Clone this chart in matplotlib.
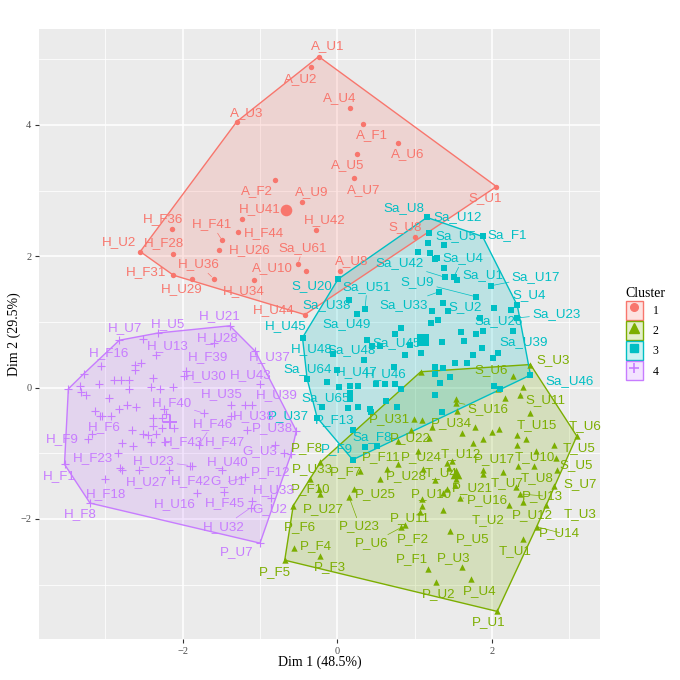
import matplotlib
matplotlib.use("Agg")
import matplotlib.pyplot as plt
import numpy as np
from matplotlib.patches import Patch
from matplotlib.lines import Line2D
from matplotlib.legend_handler import HandlerTuple
from matplotlib.colors import to_rgba

# ---------------- data ----------------
cluster_labels = ["1", "2", "3", "4"]

names1 = ["A_U1","A_U2","A_U3","A_U4","A_F1","A_U6","A_U5","A_U7","A_F2","A_U9","H_U41","H_F44",
          "H_U42","S_U1","S_U8","H_F36","H_F41","H_U2","H_F28","H_U26","H_U36","Sa_U61","A_U10",
          "H_F31","H_U29","H_U34","H_U44","A_U8"]
x1 = [-0.24,-0.34,-1.30,0.16,0.33,0.79,0.26,0.21,-0.80,-0.46,-1.23,-1.28,-0.28,2.06,1.01,-2.14,
      -1.49,-2.55,-2.13,-1.53,-1.60,-0.51,-0.40,-2.12,-1.88,-1.08,-0.42,0.04]
y1 = [5.04,4.88,4.05,4.25,4.01,3.72,3.56,3.19,3.16,2.83,2.57,2.37,2.40,3.06,2.29,2.41,2.24,2.07,
      2.04,2.09,1.66,1.88,1.77,1.71,1.65,1.63,1.11,1.77]

names2 = ["S_U6","S_U3","S_U16","S_U11","T_U15","T_U6","T_U5","S_U5","S_U7","T_U10","T_U12","P_U17",
          "P_U24","P_F11","P_U22","P_U31","P_U34","P_F8","P_U33","P_F10","P_F7","P_U28","P_U25","P_U10",
          "P_U16","P_U13","P_U21","T_U7","T_U8","T_U4","T_U3","P_U14","P_U12","T_U2","T_U1","P_U5",
          "P_U3","P_F1","P_U2","P_U4","P_U1","P_U11","P_F2","P_U6","P_U23","P_U27","P_F6","P_F4",
          "P_F3","P_F5"] + [""] * 31
x2 = [2.27,2.50,1.54,2.36,2.49,3.10,2.80,2.83,2.80,2.57,1.49,1.89,1.05,0.79,0.79,0.99,1.22,-0.22,
      -0.35,-0.24,0.30,0.55,0.22,1.09,1.59,2.36,1.52,2.31,2.54,1.45,2.70,2.58,2.40,2.22,2.40,1.46,
      1.62,1.18,1.28,1.73,2.07,1.07,0.88,0.83,0.15,-0.22,-0.57,-0.56,-0.23,-0.68,
      1.08,2.40,2.08,2.17,1.54,1.55,1.09,0.96,1.61,1.78,2.00,2.09,2.32,2.44,2.32,1.88,1.75,1.19,
      0.64,1.42,1.53,1.26,1.11,1.89,2.14,2.34,1.09,1.37,1.37,2.84,1.42]
y2 = [0.18,0.35,-0.23,-0.12,-0.39,-0.74,-0.87,-1.08,-1.50,-0.97,-1.12,-1.25,-0.97,-1.17,-0.82,-0.48,
      -0.60,-1.14,-1.39,-1.55,-1.27,-1.39,-1.55,-1.70,-1.68,-1.62,-1.48,-1.51,-1.20,-1.22,-1.79,-2.12,
      -1.75,-1.79,-2.31,-2.19,-2.74,-2.76,-2.96,-2.92,-3.41,-1.90,-2.10,-2.13,-1.66,-1.62,-1.80,-2.44,
      -2.56,-2.63,
      0.24,0.01,-0.02,-0.16,-0.17,-0.36,-0.49,-0.64,-0.70,-0.60,-0.68,-0.63,-0.73,-0.79,-0.87,-0.78,
      -0.84,-0.77,-1.24,-1.15,-1.40,-1.41,-1.24,-1.31,-1.29,-1.20,-1.80,-1.87,-1.60,-1.25,-1.55]

names3 = ["Sa_U8","Sa_U12","Sa_U5","Sa_F1","Sa_U4","Sa_U42","Sa_U1","Sa_U17","S_U9","S_U4","Sa_U23",
          "S_U2","Sa_U33","Sa_U26","Sa_U39","Sa_U51","S_U20","Sa_U38","Sa_U49","H_U45","Sa_U45",
          "Sa_U48","H_U48","Sa_U64","H_U47","H_U46","Sa_U46","Sa_U65","P_F13","P_U37","Sa_F8",
          "P_F9"] + [""] * 56
x3 = [1.16,1.19,1.17,1.88,1.51,1.39,1.55,1.99,1.80,2.33,2.33,2.03,1.32,1.88,2.28,0.36,0.01,0.15,
      0.25,-0.45,0.94,0.34,-0.06,-0.39,0.00,0.75,2.50,0.02,-0.26,-0.20,0.36,0.20,
      1.04,1.20,1.26,1.29,1.38,1.38,1.37,1.43,1.23,1.30,1.21,0.83,0.75,1.35,1.60,1.64,1.80,1.85,
      1.87,2.01,2.08,1.76,1.68,1.52,1.37,1.26,0.88,1.08,0.73,0.38,0.45,0.55,-0.13,0.17,0.27,0.50,
      0.62,0.16,0.17,0.27,0.42,0.43,0.63,0.77,0.20,0.51,1.26,1.46,1.33,1.26,1.36,2.03,2.10,2.25,
      0.14,0.83]
y3 = [2.59,2.36,2.20,2.30,1.69,1.68,1.63,1.55,1.38,1.25,1.06,1.21,1.46,0.86,0.86,1.20,1.65,1.34,
      1.12,0.76,0.64,0.42,0.51,0.13,0.27,0.06,0.19,0.01,-0.46,-0.30,-0.90,-1.10,
      2.06,2.05,1.95,1.97,2.17,1.82,1.28,1.16,1.16,1.03,0.99,0.90,0.82,0.70,0.85,0.71,0.82,1.06,
      0.60,0.45,0.53,0.49,0.38,0.38,0.30,0.32,0.49,0.52,0.32,0.73,0.63,0.63,0.09,0.02,0.03,0.06,
      0.06,-0.09,-0.18,-0.29,-0.33,-0.38,-0.21,-0.29,-0.64,-0.89,0.20,0.16,0.07,-0.11,-0.38,0.02,
      -0.03,1.18,-0.31,-0.02]

names4 = ["H_U7","H_U5","H_U21","H_U28","H_F16","H_U13","H_F39","H_U37","H_U30","H_U43","H_U35",
          "H_U39","H_F40","H_U38","H_F46","P_U38","H_F6","H_F9","H_F43","H_F47","G_U3","H_F23",
          "H_U23","H_U40","P_F12","H_F1","H_U27","H_F42","G_U1","H_U33","H_F18","H_U16","H_F45",
          "G_U2","H_F8","H_U32","P_U7"] + [""] * 45
x4 = [-2.82,-2.32,-1.39,-1.60,-3.06,-2.35,-1.96,-1.06,-1.98,-1.00,-1.38,-1.11,-1.73,-1.38,-1.79,
      -0.53,-3.17,-3.23,-2.23,-1.17,-0.69,-2.84,-1.90,-1.49,-0.60,-3.53,-2.56,-2.18,-1.19,-0.86,
      -3.01,-1.81,-1.47,-1.10,-3.20,-1.12,-1.00,
      -2.51,-3.28,-3.48,-2.62,-2.54,-2.62,-2.39,-2.89,-2.80,-2.69,-3.09,-3.33,-3.32,-3.25,-2.69,
      -2.41,-2.29,-2.13,-2.96,-2.72,-2.61,-2.82,-3.14,-3.07,-2.93,-3.04,-2.24,-2.22,-2.27,-2.39,
      -1.20,-2.39,-2.27,-2.11,-2.66,-2.52,-2.45,-2.34,-2.41,-2.78,-2.64,-0.80,-1.88,-2.81,-2.78]
y4 = [0.72,0.83,0.94,0.68,0.33,0.49,0.25,0.55,0.18,0.05,-0.27,-0.27,-0.39,-0.44,-0.87,-0.66,-0.71,
      -0.79,-0.83,-0.65,-0.99,-0.99,-1.19,-1.26,-1.02,-1.17,-1.25,-1.26,-1.37,-1.68,-1.39,-1.60,
      -1.59,-1.73,-1.76,-1.83,-2.37,
      0.74,0.21,-0.02,0.35,0.38,0.27,0.15,0.11,0.12,0.11,0.05,0.03,-0.07,-0.11,-0.03,0.01,-0.02,
      0.01,-0.16,-0.26,-0.29,-0.33,-0.36,-0.44,-0.44,-0.44,-0.33,-0.41,-0.46,-0.46,-0.27,-0.59,
      -0.61,-0.61,-0.65,-0.71,-0.73,-0.71,-0.83,-0.84,-0.89,-0.87,-1.19,-1.22,-1.25]

centers_x = [-0.67, 1.54, 1.11, -2.16]
centers_y = [2.70, -1.30, 0.73, -0.52]

# ---------------- layout / style ----------------
colors = ["#F8766D", "#7CAE00", "#00BFC4", "#C77CFF"]
markers = ["o", "^", "s", "+"]
msize = [15, 21, 14, 32]

# label offsets in pixels (dx, dy up); default (0, 9)
label_offsets = {
    "A_U1": (9, 10), "A_U2": (-10, -12), "A_U3": (10, 9), "A_U4": (-10, 10), "A_F1": (9, -11),
    "A_U6": (9, -11), "A_U5": (-10, -11), "A_U7": (10, -12), "A_F2": (-19, -11), "A_U9": (10, 10),
    "H_U41": (18, 10), "H_F44": (26, -1), "H_U42": (9, 10), "S_U1": (-11, -11), "S_U8": (-10, 10),
    "H_F36": (-9, 10), "H_F41": (-10, 16), "H_U2": (-21, 10), "H_F28": (-9, 10), "H_U26": (31, 0),
    "H_U36": (-15, 14), "Sa_U61": (5, 16), "A_U10": (-34, 3), "H_F31": (-27, 3), "H_U29": (-10, -10),
    "H_U34": (-10, -11), "H_U44": (-31, 5), "A_U8": (11, 10),
    "Sa_U8": (-23, 9), "Sa_U12": (28, 15), "Sa_U5": (28, 7), "Sa_F1": (25, 1), "Sa_U4": (9, 18),
    "Sa_U42": (-45, 14), "Sa_U1": (26, 5), "Sa_U17": (45, 9), "S_U9": (-59, 15), "S_U4": (12, 10),
    "Sa_U23": (39, 4), "S_U2": (-29, 1), "Sa_U33": (-36, -13), "Sa_U26": (16, 10), "Sa_U39": (10, -11),
    "Sa_U51": (2, 22), "S_U20": (-26, -7), "Sa_U38": (-22, -6), "Sa_U49": (-10, -10), "H_U45": (-17, 12),
    "Sa_U45": (-13, 2), "Sa_U48": (-12, 10), "H_U48": (-21, 5), "Sa_U64": (0, 10), "H_U47": (19, -2),
    "H_U46": (-9, 9), "Sa_U46": (39, -6), "Sa_U65": (-13, -11), "P_F13": (18, -2), "P_U37": (-33, -9),
    "Sa_F8": (7, 10), "P_F9": (-16, 11),
    "S_U6": (-21, 6), "S_U3": (23, 4), "S_U16": (32, -6), "S_U11": (26, -5), "T_U15": (7, -12),
    "T_U6": (8, 10), "T_U5": (25, -3), "S_U5": (20, -7), "S_U7": (26, 2), "T_U10": (-1, -6),
    "T_U12": (8, 7), "P_U17": (11, 11), "P_U24": (3, -6), "P_F11": (-17, 7), "P_U22": (12, 3),
    "P_U31": (-24, 0), "P_U34": (20, 4), "P_F8": (-13, 14), "P_U33": (2, 10), "P_F10": (-8, 0),
    "P_F7": (-15, -1), "P_U28": (27, 3), "P_U25": (21, -5), "P_U10": (10, 5), "P_U16": (27, -2),
    "P_U13": (23, -2), "P_U21": (18, -3), "T_U7": (-9, 4), "T_U8": (4, -12), "T_U4": (-8, -5),
    "T_U3": (34, -9), "P_U14": (23, -6), "P_U12": (10, -13), "T_U2": (-21, -15), "T_U1": (-8, -12),
    "P_U5": (23, -8), "P_U3": (-9, 9), "P_F1": (-17, 10), "P_U2": (2, -12), "P_U4": (9, -12),
    "P_U1": (-9, -11), "P_U11": (-10, -6), "P_F2": (8, -14), "P_U6": (-30, -16), "P_U23": (11, -30),
    "P_U27": (3, -15), "P_F6": (7, -21), "P_F4": (22, 2), "P_F3": (10, -11), "P_F5": (-10, -12),
    "H_U7": (6, 12), "H_U5": (10, 9), "H_U21": (-10, 10), "H_U28": (4, 5), "H_F16": (8, 13),
    "H_U13": (12, 9), "H_F39": (22, 14), "H_U37": (14, -6), "H_U30": (21, 0), "H_U43": (-9, 9),
    "H_U35": (-9, 11), "H_U39": (25, 10), "H_F40": (-32, 10), "H_U38": (23, 0), "H_F46": (14, 21),
    "P_U38": (-24, 3), "H_F6": (12, 7), "H_F9": (-25, 0), "H_F43": (18, 0), "H_F47": (-22, -12),
    "G_U3": (-24, 1), "H_F23": (-25, -6), "H_U23": (-37, 5), "H_U40": (6, 8), "P_F12": (-20, -18),
    "H_F1": (-5, -12), "H_U27": (7, -12), "H_F42": (22, -11), "G_U1": (-17, -4), "H_U33": (3, 8),
    "H_F18": (1, -15), "H_U16": (-23, -12), "H_F45": (1, -11), "G_U2": (18, -8), "H_F8": (-10, -11),
    "H_U32": (-27, -19), "P_U7": (-23, -9),
}
with_segment = {"Sa_U42", "S_U9", "Sa_U33", "Sa_U51", "Sa_U17", "Sa_U23", "Sa_U4", "H_F40", "H_U23",
                "H_U32", "P_U6", "P_U23", "H_F41", "H_U36", "Sa_U61", "P_U13", "P_U14", "G_U1",
                "S_U11", "S_U16", "H_F46", "P_U16"}


def convex_hull(px, py):
    pts = sorted(set(zip(px, py)))
    def cross(o, a, b):
        return (a[0] - o[0]) * (b[1] - o[1]) - (a[1] - o[1]) * (b[0] - o[0])
    lower, upper = [], []
    for p in pts:
        while len(lower) >= 2 and cross(lower[-2], lower[-1], p) <= 0:
            lower.pop()
        lower.append(p)
    for p in reversed(pts):
        while len(upper) >= 2 and cross(upper[-2], upper[-1], p) <= 0:
            upper.pop()
        upper.append(p)
    hull = lower[:-1] + upper[:-1]
    return [h[0] for h in hull], [h[1] for h in hull]


fig = plt.figure(figsize=(6.8, 6.8), dpi=100)
ax = fig.add_axes([39 / 680, 41 / 680, 561 / 680, 610 / 680])
ax.set_facecolor("#EBEBEB")
for s in ax.spines.values():
    s.set_visible(False)

ax.set_xlim(-3.86, 3.40)
ax.set_ylim(-3.83, 5.46)
ax.set_xticks([-2, 0, 2])
ax.set_yticks([-2, 0, 2, 4])
ax.set_xticks([-3, -1, 1, 3], minor=True)
ax.set_yticks([-3, -1, 1, 3, 5], minor=True)
ax.grid(which="major", color="white", lw=1.1)
ax.grid(which="minor", color="white", lw=0.55)
ax.set_axisbelow(True)
ax.tick_params(which="major", length=3, color="#333333", labelcolor="#4D4D4D", labelsize=7.5, pad=2.5)
ax.tick_params(which="minor", length=0)
for lab in ax.get_xticklabels() + ax.get_yticklabels():
    lab.set_family("Liberation Serif")

groups = [(names1, x1, y1), (names2, x2, y2), (names3, x3, y3), (names4, x4, y4)]

# hulls
for k, (nm, xs, ys) in enumerate(groups):
    hx, hy = convex_hull(xs, ys)
    ax.fill(hx, hy, facecolor=colors[k], alpha=0.2, edgecolor="none", zorder=1)
    ax.plot(hx + [hx[0]], hy + [hy[0]], color=colors[k], lw=1.0, zorder=2)

# points
for k, (nm, xs, ys) in enumerate(groups):
    if markers[k] == "+":
        ax.scatter(xs, ys, marker="+", s=msize[k], color=colors[k], linewidths=0.8, zorder=3)
        ax.scatter([centers_x[k]], [centers_y[k]], marker="+", s=90, color=colors[k], linewidths=1.4, zorder=3)
    else:
        ax.scatter(xs, ys, marker=markers[k], s=msize[k], color=colors[k], linewidths=0, zorder=3)
        ax.scatter([centers_x[k]], [centers_y[k]], marker=markers[k], s=70, color=colors[k], linewidths=0, zorder=3)

# labels
for k, (nm, xs, ys) in enumerate(groups):
    for n, xv, yv in zip(nm, xs, ys):
        if not n:
            continue
        dx, dy = label_offsets.get(n, (0, 9))
        kw = {}
        if n in with_segment:
            kw["arrowprops"] = dict(arrowstyle="-", lw=0.5, color=colors[k], shrinkA=0, shrinkB=2)
        ax.annotate(n, (xv, yv), xytext=(dx, dy), textcoords="offset pixels", ha="center",
                    va="center", color=colors[k], fontsize=9.6, family="Liberation Sans",
                    zorder=4, **kw)

ax.set_xlabel("Dim 1 (48.5%)", family="Liberation Serif", fontsize=10)
ax.set_ylabel("Dim 2 (29.5%)", family="Liberation Serif", fontsize=10)
ax.xaxis.set_label_coords(0.5, -(656 - 639) / 610)
ax.yaxis.set_label_coords(-(39 - 21) / 561, 0.5)

# legend
handles = []
for k in range(4):
    patch = Patch(facecolor=to_rgba(colors[k], 0.2), edgecolor=colors[k], linewidth=1)
    if markers[k] == "+":
        mk = Line2D([], [], marker="+", color=colors[k], linestyle="none", markersize=7, markeredgewidth=1.2)
    elif markers[k] == "^":
        mk = Line2D([], [], marker="^", color=colors[k], linestyle="none", markersize=6.5)
    else:
        mk = Line2D([], [], marker=markers[k], color=colors[k], linestyle="none", markersize=5.5)
    handles.append((patch, mk))
leg = fig.legend(handles, cluster_labels, title="Cluster", loc="upper left",
                 bbox_to_anchor=(615 / 680, 1 - 276 / 680), frameon=False,
                 handlelength=1.5, handleheight=2.1, labelspacing=0.1, handletextpad=0.8,
                 prop={"family": "Liberation Serif", "size": 8.5},
                 title_fontproperties={"family": "Liberation Serif", "size": 10},
                 handler_map={tuple: HandlerTuple(ndivide=1, pad=0)})
leg._legend_box.align = "left"

fig.savefig("out.png", dpi=100)
